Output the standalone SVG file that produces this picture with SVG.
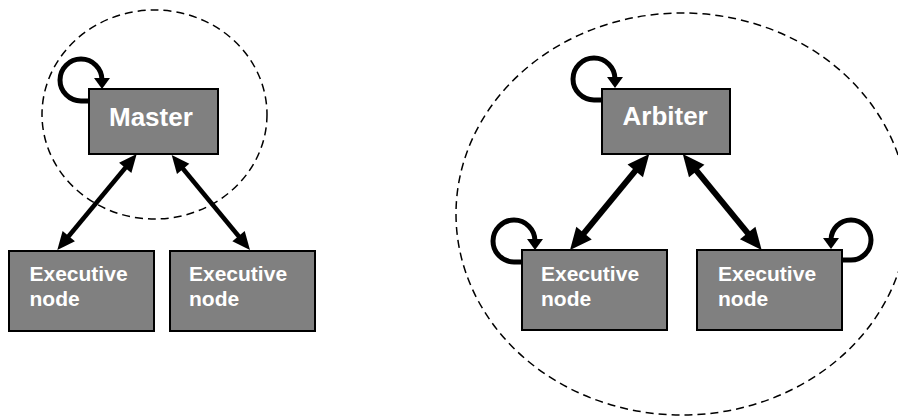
<svg xmlns="http://www.w3.org/2000/svg" width="898" height="417" viewBox="0 0 898 417">
  <defs>
    <style>
      .box { fill: #808080; stroke: #000; stroke-width: 2; }
      .lbl { fill: #fff; font-family: "Liberation Sans", Arial, sans-serif; font-weight: bold; }
      .big { font-size: 26px; }
      .small { font-size: 21px; }
      .ring { fill: none; stroke: #000; stroke-width: 1.5; stroke-dasharray: 8 5; }
      .thin { fill: none; stroke: #000; stroke-width: 4.5; marker-start: url(#headS); marker-end: url(#headS); }
      .thick { fill: none; stroke: #000; stroke-width: 6; marker-start: url(#headL); marker-end: url(#headL); }
      .loop { fill: none; stroke: #000; stroke-width: 5; marker-end: url(#headLoop); }
    </style>
    <marker id="headS" markerUnits="userSpaceOnUse" markerWidth="18" markerHeight="16" refX="10" refY="8" orient="auto-start-reverse" overflow="visible">
      <path d="M0,0 L18,8 L0,16 z" fill="#000"/>
    </marker>
    <marker id="headL" markerUnits="userSpaceOnUse" markerWidth="22" markerHeight="20" refX="12" refY="10" orient="auto-start-reverse" overflow="visible">
      <path d="M0,0 L22,10 L0,20 z" fill="#000"/>
    </marker>
    <marker id="headLoop" markerUnits="userSpaceOnUse" markerWidth="11" markerHeight="16" refX="2" refY="8" orient="auto" overflow="visible">
      <path d="M0,0 L11,8 L0,16 z" fill="#000"/>
    </marker>
  </defs>

  <g id="groups">
    <ellipse class="ring" cx="154.5" cy="114.5" rx="112.5" ry="104.5"/>
    <ellipse class="ring" cx="682" cy="214" rx="226" ry="201"/>
  </g>

  <g id="connectors">
    <line class="thin" x1="131.6" y1="160.2" x2="62.4" y2="243.8"/>
    <line class="thin" x1="176.8" y1="161.2" x2="244.9" y2="243.8"/>
    <line class="thick" x1="642.9" y1="161.7" x2="576.4" y2="242.3"/>
    <line class="thick" x1="689.1" y1="161.7" x2="755.3" y2="242.3"/>
    <path class="loop" d="M89,101 L81,101 A21,21 0 1 1 102,80"/>
    <path class="loop" d="M602,100 L594,100 A21,21 0 1 1 615,79"/>
    <path class="loop" d="M522,262 L514,262 A21,21 0 1 1 535,241"/>
    <path class="loop" d="M842,260 L851,260 A20,20 0 1 0 831,240"/>
  </g>

  <g id="master">
    <rect class="box" x="89" y="89" width="129" height="65"/>
    <text class="lbl big" x="109" y="126">Master</text>
  </g>
  <g id="exec-l1">
    <rect class="box" x="9" y="251" width="145" height="80"/>
    <text class="lbl small" x="29.5" y="281">Executive</text>
    <text class="lbl small" x="29.5" y="306">node</text>
  </g>
  <g id="exec-l2">
    <rect class="box" x="170" y="251" width="145" height="80"/>
    <text class="lbl small" x="189" y="281">Executive</text>
    <text class="lbl small" x="189" y="306">node</text>
  </g>
  <g id="arbiter">
    <rect class="box" x="602" y="89" width="128" height="65"/>
    <text class="lbl big" x="622.5" y="125">Arbiter</text>
  </g>
  <g id="exec-r1">
    <rect class="box" x="522" y="250" width="145" height="80"/>
    <text class="lbl small" x="541" y="281">Executive</text>
    <text class="lbl small" x="541" y="306">node</text>
  </g>
  <g id="exec-r2">
    <rect class="box" x="697" y="250" width="145" height="80"/>
    <text class="lbl small" x="718" y="281">Executive</text>
    <text class="lbl small" x="718" y="306">node</text>
  </g>
</svg>
